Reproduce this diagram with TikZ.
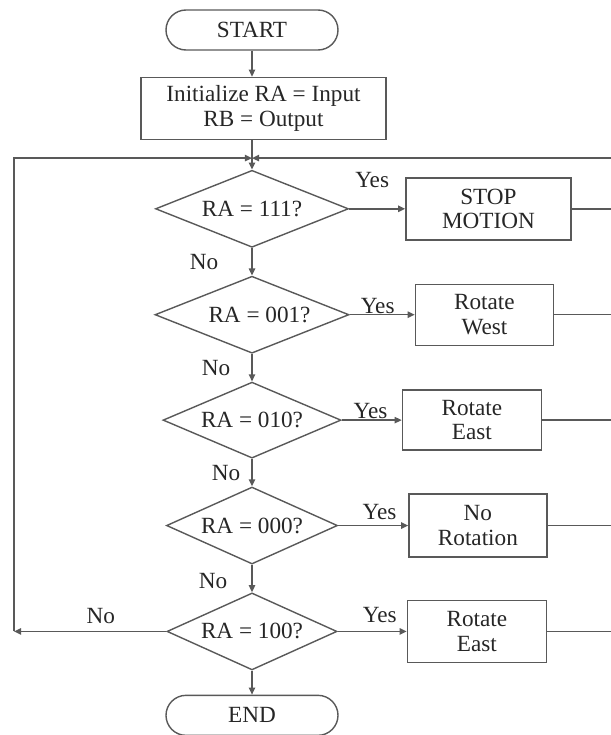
\documentclass[tikz,border=0pt]{standalone}
\usepackage{fontspec}
\setmainfont{Liberation Serif}
\usepackage{xcolor}
\usetikzlibrary{positioning, arrows.meta, shapes.geometric}
\tikzset{
  termbox/.style={rectangle, draw=black!65, rounded corners=0.4cm,
                  minimum width=3.44cm, minimum height=0.8cm,
                  align=center, text=black!85, line width=0.8pt},
  procbox/.style={rectangle, draw=black!65, minimum height=1.24cm,
                  align=center, text=black!85, line width=0.8pt},
  decbox/.style={diamond, aspect=2.5, draw=black!65, inner sep=0pt,
                 minimum height=1.54cm, align=center,
                 text=black!85, line width=0.8pt},
  lbl/.style={inner sep=0pt, text=black!85},
  myline/.style={line width=0.8pt, draw=black!65},
  myarr/.style={-{Triangle[length=4pt,width=3.6pt]}, line width=0.8pt, draw=black!65},
}

\begin{document}
\begin{tikzpicture}[font=\fontsize{13.2}{14}\selectfont]

  \useasboundingbox (0,0) rectangle (12.22,-14.7);

  % main column
  \node[termbox] (start) at (5.04,-0.6) {START};
  \node[procbox, minimum width=4.9cm, below=0.52cm of start, xshift=0.23cm]
        (init) {Initialize RA = Input\\RB = Output};
  \coordinate (join) at ([yshift=-0.36cm]init.south -| start);

  \node[decbox, minimum width=3.86cm, below=0.23cm of join] (d1) {RA = 111?};
  \node[decbox, minimum width=3.88cm, below=0.55cm of d1]   (d2) {\hspace*{0.3cm}RA = 001?};
  \node[decbox, minimum width=3.56cm, minimum height=1.52cm,
        below=0.55cm of d2] (d3) {RA = 010?};
  \node[decbox, minimum width=3.42cm, below=0.55cm of d3]   (d4) {RA = 000?};
  \node[decbox, minimum width=3.40cm, below=0.55cm of d4]   (d5) {RA = 100?};
  \node[termbox, below=0.48cm of d5] (end) {END};

  % actions
  \node[procbox, minimum width=3.30cm, right=1.12cm of d1] (stop)  {STOP\\MOTION};
  \node[procbox, minimum width=2.76cm, minimum height=1.22cm,
        right=1.30cm of d2] (west)  {Rotate\\West};
  \node[procbox, minimum width=2.78cm, minimum height=1.20cm,
        right=1.20cm of d3] (east)  {Rotate\\East};
  \node[procbox, minimum width=2.76cm, minimum height=1.26cm,
        right=1.40cm of d4] (norot) {No\\Rotation};
  \node[procbox, minimum width=2.78cm, right=1.38cm of d5] (eastb) {Rotate\\East};

  % loop edges
  \coordinate (redge) at (12.30,0);
  \coordinate (ledge) at (0.28,0);

  \draw[myarr]  (start) -- (start |- init.north);
  \draw[myline] (init.south -| join) -- (join);
  \draw[myarr]  (join) -- (d1);

  \draw[myarr] (d1) -- node[lbl, xshift=-0.96cm] {No} (d2);
  \draw[myarr] (d2) -- node[lbl, xshift=-0.72cm] {No} (d3);
  \draw[myarr] (d3) -- node[lbl, xshift=-0.52cm] {No} (d4);
  \draw[myarr] (d4) -- node[lbl, xshift=-0.78cm, yshift=-0.05cm] {No} (d5);
  \draw[myarr] (d5) -- (end);

  \draw[myarr] (d1) -- node[lbl, pos=0.41, yshift=0.58cm] {Yes} (stop);
  \draw[myarr] (d2) -- node[lbl, pos=0.43, yshift=0.18cm] {Yes} (west);
  \draw[myarr] (d3) -- node[lbl, pos=0.48, yshift=0.18cm] {Yes} (east);
  \draw[myarr] (d4) -- node[lbl, pos=0.59, yshift=0.28cm] {Yes} (norot);
  \draw[myarr] (d5) -- node[lbl, pos=0.61, yshift=0.32cm] {Yes} (eastb);

  \draw[myline] (stop)  -- (stop -| redge);
  \draw[myline] (west)  -- (west -| redge);
  \draw[myline] (east)  -- (east -| redge);
  \draw[myline] (norot) -- (norot -| redge);
  \draw[myarr]  (eastb -| redge) -- (join -| redge) -- (join);
  \draw[myline] (eastb) -- (eastb -| redge);

  \draw[myarr] (d5) -- node[lbl, pos=0.43, yshift=0.3cm] {No} (d5 -| ledge);
  \draw[myarr] (d5 -| ledge) -- (join -| ledge) -- (join);

\end{tikzpicture}
\end{document}
